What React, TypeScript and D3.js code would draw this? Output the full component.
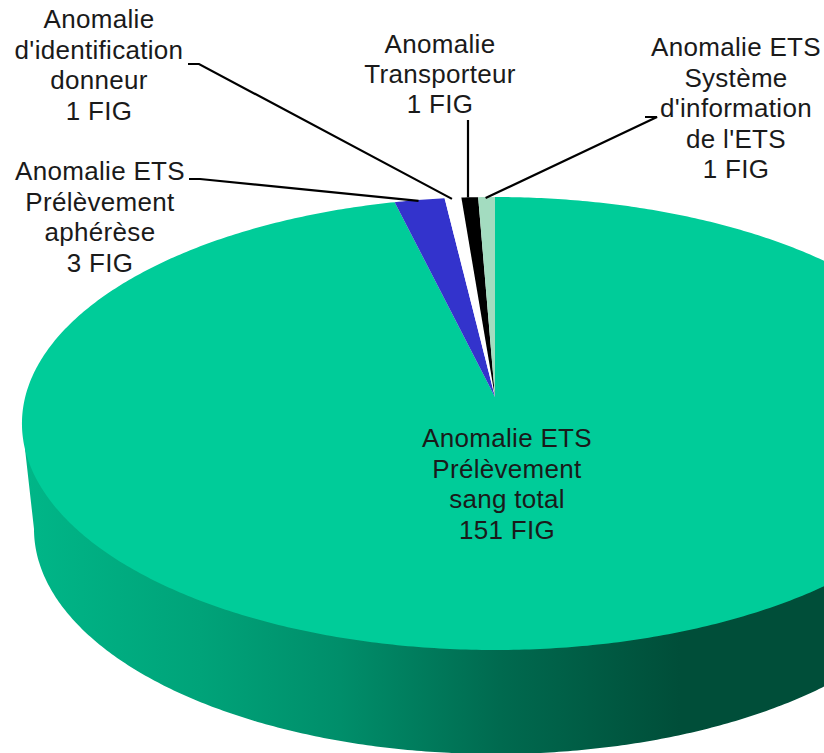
import React from 'react';
import * as d3 from 'd3';

const width = 824;
const height = 753;

// FIG counts, clockwise from 12 o'clock
const categories = [
  ['Anomalie ETS', 'Prélèvement', 'sang total'],
  ['Anomalie ETS', 'Prélèvement', 'aphérèse'],
  ["Anomalie", "d'identification", 'donneur'],
  ['Anomalie', 'Transporteur'],
  ['Anomalie ETS', 'Système', "d'information", "de l'ETS"],
];
const values = [151, 3, 1, 1, 1];
const colors = ['#00cc99', '#3333cc', '#ffffff', '#000000', '#a3dcc0'];

// label placement: centre x, first baseline, line step
const labelPos = [
  { x: 507, y: 447, step: 30.5 },
  { x: 100, y: 180, step: 30.5 },
  { x: 99, y: 28, step: 30.5 },
  { x: 440, y: 53, step: 30 },
  { x: 736, y: 56, step: 30.5 },
];
// leader lines: where they start next to the label, then the elbow (no elbow = straight)
const leaderStart: ([number, number] | null)[] = [null, [189, 179], [188, 64], [468, 120], [645, 117]];
const leaderElbow: ([number, number] | null)[] = [null, [200, 179], [199, 64], null, [657, 117]];

// side wall shading, left to right
const wallStops: [number, string][] = [
  [0, '#00b98a'],
  [200, '#00a379'],
  [340, '#008e6a'],
  [500, '#006a4f'],
  [680, '#004e39'],
  [824, '#004e39'],
];

// top face: tilted circle with perspective, so the hub sits above the ellipse centre
const hubX = 495;
const hubY = 397;
const persp = 0.117;
const topRx = 469.8;
const topRy = 223.4;

const project = (a: number): [number, number] => {
  const w = 1 + persp * Math.cos(a);
  return [hubX + (topRx * Math.sin(a)) / w, hubY - (topRy * Math.cos(a)) / w];
};

const arcPoints = (a0: number, a1: number) => {
  const n = Math.max(2, Math.ceil((a1 - a0) / 0.01));
  return d3.range(n + 1).map(i => project(a0 + ((a1 - a0) * i) / n));
};

// base of the wall
const baseCx = 495;
const baseCy = 529;
const baseRx = 461;
const baseRy = 225;

const line = d3.line();

export default function App() {
  const slices = d3
    .pie<number>()
    .sort(null)
    .value(d => d)(values);

  const wallScale = d3.scaleLinear().domain([0, width]).range([0, 1]);

  // lower half of the base ellipse, left to right
  const basePoints = d3
    .range(Math.PI, 0, -0.01)
    .map((t): [number, number] => [baseCx + baseRx * Math.cos(t), baseCy + baseRy * Math.sin(t)]);

  // left of the top face down to the base, along the base, back up on the right
  const wallPath = line([
    project(-Math.PI / 2 - 0.23),
    ...basePoints,
    project(Math.PI / 2 + 0.23),
  ]);

  return (
    <svg
      width={width}
      height={height}
      style={{ position: 'absolute', left: 0, top: 0, display: 'block' }}
      fontFamily="'Liberation Sans', Arial, sans-serif"
      fontSize={26}
      letterSpacing={0.3}
    >
      <defs>
        <linearGradient id="wallFull" gradientUnits="userSpaceOnUse" x1={0} x2={width} y1={0} y2={0}>
          {wallStops.map(([x, c]) => (
            <stop key={x} offset={wallScale(x)} stopColor={c} />
          ))}
        </linearGradient>
      </defs>

      <path d={wallPath!} fill="url(#wallFull)" />

      {slices.map((s, i) => (
        <path
          key={i}
          d={line([[hubX, hubY], ...arcPoints(s.startAngle, s.endAngle)])! + 'Z'}
          fill={colors[i]}
        />
      ))}

      {slices.map((s, i) => {
        const start = leaderStart[i];
        if (!start) return null;
        const mid = project((s.startAngle + s.endAngle) / 2);
        const elbow = leaderElbow[i];
        const pts: [number, number][] = elbow ? [start, elbow, [mid[0] - 1, mid[1] + 1]] : [start, [start[0], mid[1]]];
        return <path key={i} d={line(pts)!} fill="none" stroke="#000" strokeWidth={2.2} />;
      })}

      {categories.map((lines, i) => (
        <text key={i} textAnchor="middle" fill="#1a1a1a">
          {[...lines, `${values[i]} FIG`].map((t, j) => (
            <tspan key={j} x={labelPos[i].x} y={labelPos[i].y + j * labelPos[i].step}>
              {t}
            </tspan>
          ))}
        </text>
      ))}
    </svg>
  );
}
